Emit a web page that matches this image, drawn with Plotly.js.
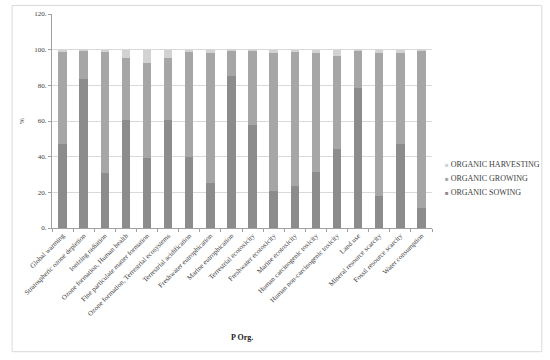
<!DOCTYPE html>
<html>
<head>
<meta charset="utf-8">
<script src="https://cdn.plot.ly/plotly-3.0.1.min.js"></script>
<style>
  html, body { margin: 0; padding: 0; background: #fff; }
  #grafico { width: 550px; height: 360px; }
</style>
</head>
<body>
<div id="grafico"></div>
<script>
const categorias = [
  'Global warming', 'Stratospheric ozone depletion', 'Ionizing radiation',
  'Ozone formation, Human health', 'Fine particulate matter formation',
  'Ozone formation, Terrestrial ecosystems', 'Terrestrial acidification',
  'Freshwater eutrophication', 'Marine eutrophication', 'Terrestrial ecotoxicity',
  'Freshwater ecotoxicity', 'Marine ecotoxicity', 'Human carcinogenic toxicity',
  'Human non-carcinogenic toxicity', 'Land use', 'Mineral resource scarcity',
  'Fossil resource scarcity', 'Water consumption'
];

const sowing     = [47.0, 83.5, 31.0, 60.5, 39.0, 60.5, 40.0, 25.0, 85.0, 57.5, 21.0, 23.6, 31.5, 44.5, 78.4, 18.0, 47.3, 11.2];
const growing    = [51.5, 16.3, 68.0, 35.0, 53.5, 35.0, 58.5, 73.2, 14.8, 42.0, 77.3, 75.0, 66.8, 52.1, 21.4, 80.0, 51.0, 88.3];
const harvesting = [ 1.5,  0.2,  1.0,  4.5,  7.5,  4.5,  1.5,  1.8,  0.2,  0.5,  1.7,  1.4,  1.7,  3.4,  0.2,  2.0,  1.7,  0.5];

const series = ['ORGANIC SOWING', 'ORGANIC GROWING', 'ORGANIC HARVESTING'];
const colores = ['#8c8c8c', '#a6a6a6', '#d2d2d2'];

const yTicks = [0, 20, 40, 60, 80, 100, 120];
const yTickText = yTicks.map(v => v + '.');

const fuente = 'Liberation Serif, DejaVu Serif, serif';

const valores = [sowing, growing, harvesting];

const data = valores.map((v, i) => ({
  x: categorias, y: v, type: 'bar', name: series[i],
  marker: { color: colores[i] }
}));

// leyenda a mano: cuadrito pequeño + texto, de arriba (harvesting) a abajo (sowing)
const leyendaY = [0.168, 0.2335, 0.2987];
const leyenda = series.map((s, i) => ({
  text: `<span style="color:${colores[i]};font-size:6px">■</span> ${s}`,
  xref: 'paper', yref: 'paper', x: 1.03, y: leyendaY[i],
  xanchor: 'left', yanchor: 'middle', showarrow: false,
  font: { family: fuente, size: 8, color: '#404040' }
}));

const layout = {
  width: 550,
  height: 360,
  barmode: 'stack',
  bargap: 0.6,
  margin: { l: 52, r: 118, t: 14, b: 132, autoexpand: false },
  paper_bgcolor: '#fff',
  plot_bgcolor: '#fff',
  font: { family: fuente, size: 7, color: '#404040' },
  showlegend: false,
  xaxis: {
    tickangle: -45,
    showline: true,
    linecolor: '#a0a0a0',
    ticks: 'outside',
    tickson: 'boundaries',
    ticklen: 3,
    tickcolor: '#a0a0a0',
    tickfont: { family: fuente, size: 7, color: '#404040' }
  },
  yaxis: {
    title: { text: '%', font: { family: fuente, size: 7 }, standoff: 8 },
    range: [0, 120],
    tickvals: yTicks,
    ticktext: yTickText,
    showgrid: true,
    gridcolor: '#d9d9d9',
    showline: true,
    linecolor: '#a0a0a0',
    ticks: 'outside',
    ticklen: 3,
    tickcolor: '#a0a0a0',
    zeroline: false,
    tickfont: { family: fuente, size: 7, color: '#404040' }
  },
  annotations: [
    {
      text: '<b>P Org.</b>', xref: 'paper', yref: 'paper', x: 0.5, y: -0.513,
      yanchor: 'middle', showarrow: false, font: { family: fuente, size: 8, color: '#222' }
    }
  ].concat(leyenda),
  shapes: [
    {
      type: 'rect', xref: 'paper', yref: 'paper',
      x0: -0.105, x1: 1.289, y0: -0.578, y1: 1.04,
      line: { color: '#d9d9d9', width: 1 }
    }
  ]
};

Plotly.newPlot('grafico', data, layout, { displayModeBar: false });
</script>
</body>
</html>
